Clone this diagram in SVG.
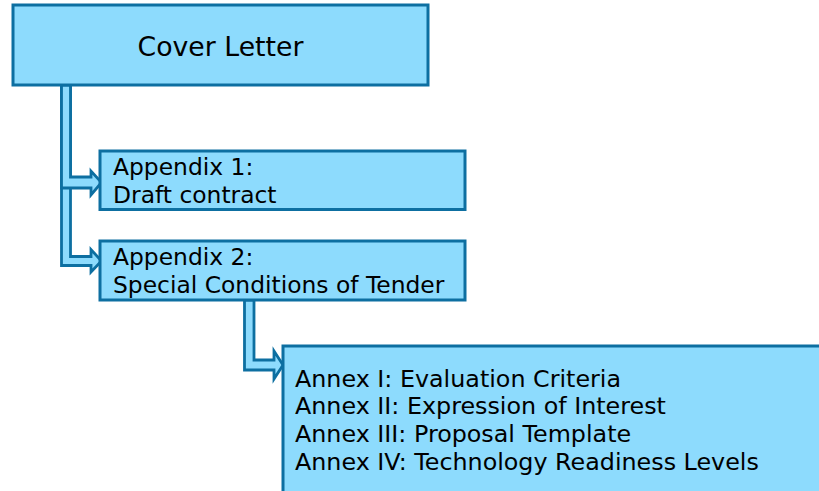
<svg xmlns="http://www.w3.org/2000/svg" width="819" height="491" viewBox="0 0 819 491">
<style>
.box{fill:#8ddbfd;stroke:#0d6fa1;stroke-width:3}
.arr{fill:#8ddbfd;stroke:#0d6fa1;stroke-width:2.8;stroke-linejoin:miter}
text{font-family:"DejaVu Sans","Verdana",sans-serif;fill:#000}
.t{font-size:23.4px}
.a{font-size:23.8px}
</style>
<rect width="819" height="491" fill="#fff"/>
<g id="connectors">
<path class="arr" d="M61.5,85 V265.5 H91 V272 L101.5,261 L91,249.5 V256.5 H70.5 V85 Z"/>
<path class="arr" d="M61.5,85 V188 H91 V195 L101.5,182.5 L91,171 V177 H70.5 V85 Z"/>
<path class="arr" d="M244.5,300 V370 H274 V379 L283,365 L274,351 V360 H254 V300 Z"/>
</g>
<g id="cover-letter">
<rect class="box" x="13" y="5" width="415" height="80"/>
<text x="220.5" y="56" font-size="26.7" text-anchor="middle">Cover Letter</text>
</g>
<g id="appendix-1">
<rect class="box" x="100" y="151" width="365" height="58.5"/>
<text class="t" x="113" y="174.5">Appendix 1:</text>
<text class="t" x="113" y="202.5">Draft contract</text>
</g>
<g id="appendix-2">
<rect class="box" x="100" y="241" width="365" height="59"/>
<text class="t" x="113" y="264.5">Appendix 2:</text>
<text class="t" x="113" y="292.7">Special Conditions of Tender</text>
</g>
<g id="annexes">
<rect class="box" x="283" y="346" width="560" height="200"/>
<text class="a" x="295" y="386.7">Annex I: Evaluation Criteria</text>
<text class="a" x="295" y="414.3">Annex II: Expression of Interest</text>
<text class="a" x="295" y="441.9">Annex III: Proposal Template</text>
<text class="a" x="295" y="469.5">Annex IV: Technology Readiness Levels</text>
</g>
</svg>
